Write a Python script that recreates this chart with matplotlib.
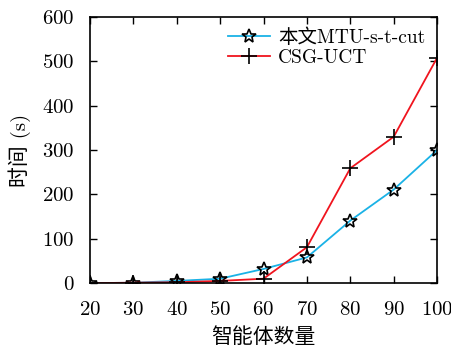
import matplotlib
matplotlib.use("Agg")
import matplotlib.pyplot as plt

agents = [20, 30, 40, 50, 60, 70, 80, 90, 100]
mtu_times = [0, 1, 5, 10, 32, 58, 141, 211, 300]
csg_times = [0, 1, 2, 5, 10, 81, 259, 330, 508]
xticks = [20, 30, 40, 50, 60, 70, 80, 90, 100]
yticks = [0, 100, 200, 300, 400, 500, 600]

plt.rcParams['font.family'] = ['cmr10', 'Noto Sans CJK SC']
plt.rcParams['axes.formatter.use_mathtext'] = True

fig = plt.figure(figsize=(4.52, 3.47), dpi=100)
ax = fig.add_axes([0.199, 0.184, 0.768, 0.767])

ax.plot(agents, mtu_times, color='#1ab2e6', lw=1.3, marker='*', ms=10,
        mfc='none', mec='black', mew=1.2, label='本文MTU-s-t-cut')
ax.plot(agents, csg_times, color='#f0141e', lw=1.3, marker='+', ms=12,
        mec='black', mew=1.2, label='CSG-UCT')

ax.set_xlim(20, 100)
ax.set_ylim(0, 600)
ax.set_xticks(xticks)
ax.set_yticks(yticks)
ax.tick_params(direction='in', top=True, right=True, labelsize=15, length=5, width=1)
ax.tick_params(axis='x', pad=13)
ax.tick_params(axis='y', pad=11)
for s in ax.spines.values():
    s.set_linewidth(1.2)

ax.set_xlabel('智能体数量', fontsize=15, labelpad=6)
ax.set_ylabel('时间 (s)', fontsize=15, labelpad=8)

ax.legend(loc='upper right', frameon=False, fontsize=14, handlelength=2.2,
          borderaxespad=0.2, labelspacing=0.1, handletextpad=0.4)

fig.savefig('out.png', dpi=100)
